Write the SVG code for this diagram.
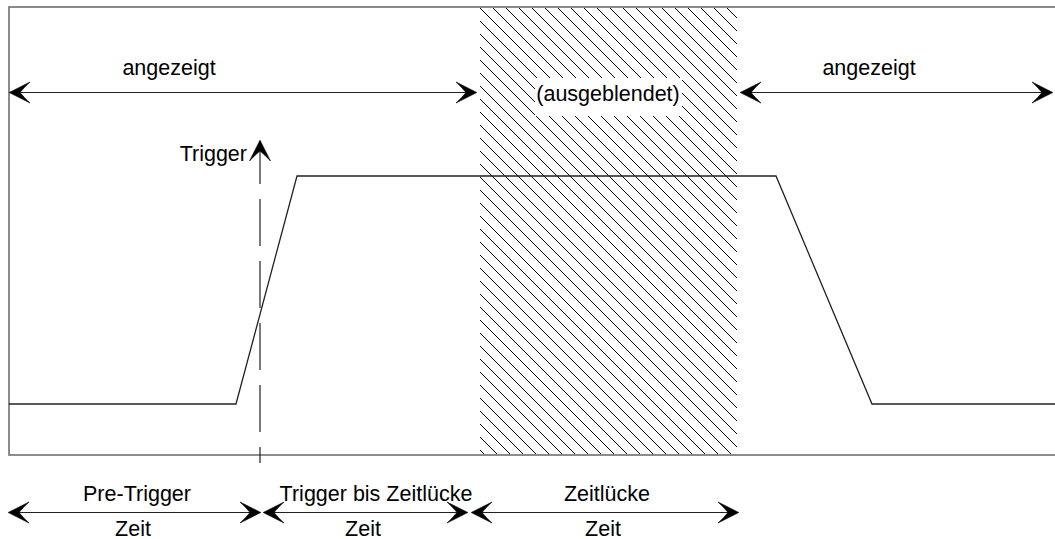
<svg xmlns="http://www.w3.org/2000/svg" width="1055" height="539" viewBox="0 0 1055 539">
  <style>
    .txt { font-family: "Liberation Sans", Arial, sans-serif; font-size: 21.5px; fill: #000; }
    .mid { text-anchor: middle; }
    .end { text-anchor: end; }
    .frame { fill: none; stroke: #666; stroke-width: 1.5; }
    .sig { fill: none; stroke: #222; stroke-width: 1.3; }
    .arr { fill: none; stroke: #222; stroke-width: 1.2; marker-start: url(#ah); marker-end: url(#ah); }
  </style>
  <defs>
    <marker id="ah" viewBox="-22 -12 24 24" refX="0" refY="0" markerWidth="24" markerHeight="24" markerUnits="userSpaceOnUse" orient="auto-start-reverse">
      <path d="M0.8,0 L-20,-10.5 Q-14,-5 -10,0 Q-14,5 -20,10.5 Z" fill="#000" stroke="#000" stroke-width="0.6" stroke-linejoin="round"/>
    </marker>
    <pattern id="hatch" patternUnits="userSpaceOnUse" x="480" y="8" width="13" height="13">
      <path d="M0,0 L13,13 M-2,11 L2,15 M11,-2 L15,2" stroke="#000" stroke-width="1"/>
    </pattern>
  </defs>

  <g id="frame">
    <rect class="frame" x="9" y="7" width="1060" height="448"/>
  </g>

  <g id="gap-region">
    <rect x="480" y="8" width="257" height="446" fill="url(#hatch)"/>
    <rect x="535" y="78" width="147" height="38" fill="#fff"/>
    <text class="txt mid" x="608" y="101">(ausgeblendet)</text>
  </g>

  <g id="signal">
    <polyline class="sig" points="9,404 236,404 297,176 776,176 872,404 1056,404"/>
  </g>

  <g id="connectors">
    <line class="arr" x1="10" y1="92.5" x2="476" y2="92.5"/>
    <line class="arr" x1="741" y1="92.5" x2="1052" y2="92.5"/>
    <line x1="260" y1="463" x2="260" y2="141" stroke="#222" stroke-width="1.2" stroke-dasharray="47 15" stroke-dashoffset="31" marker-end="url(#ah)"/>
    <line class="arr" x1="9" y1="512.5" x2="260" y2="512.5"/>
    <line class="arr" x1="264" y1="512.5" x2="467" y2="512.5"/>
    <line class="arr" x1="472" y1="512.5" x2="738" y2="512.5"/>
  </g>

  <g id="labels">
    <text class="txt mid" x="169" y="75">angezeigt</text>
    <text class="txt mid" x="869" y="75">angezeigt</text>
    <text class="txt end" x="247" y="161">Trigger</text>
    <text class="txt mid" x="137" y="501">Pre-Trigger</text>
    <text class="txt mid" x="133" y="536">Zeit</text>
    <text class="txt mid" x="376" y="501">Trigger bis Zeitlücke</text>
    <text class="txt mid" x="363" y="536">Zeit</text>
    <text class="txt mid" x="607" y="501">Zeitlücke</text>
    <text class="txt mid" x="603" y="536">Zeit</text>
  </g>
</svg>
